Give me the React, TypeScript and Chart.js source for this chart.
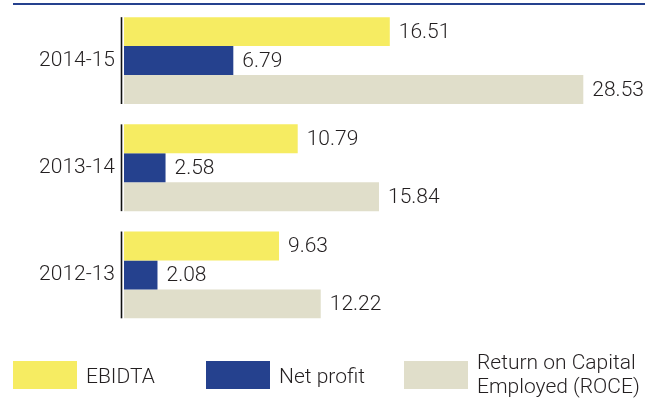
import React, { useEffect, useRef } from "react";
import { Chart, registerables } from "chart.js";

Chart.register(...registerables);

const categories = ["2014-15", "2013-14", "2012-13"];
const seriesNames = ["EBIDTA", "Net profit", "Return on Capital Employed (ROCE)"];
const legendLines = [["EBIDTA"], ["Net profit"], ["Return on Capital", "Employed (ROCE)"]];
const ebidta = [16.51, 10.79, 9.63];
const netProfit = [6.79, 2.58, 2.08];
const roce = [28.53, 15.84, 12.22];
const colors = ["#F6EC62", "#25418E", "#E0DECA"];

const TEXT = "#231f20";
const FONT = "Roboto, 'Liberation Sans', sans-serif";
const FS = 21;

export default function App() {
  const ref = useRef<HTMLCanvasElement | null>(null);

  useEffect(() => {
    if (!ref.current) return;
    const decor = {
      id: "decor",
      afterDatasetsDraw(chart: any) {
        const ctx = chart.ctx;
        ctx.save();
        // top rule
        ctx.fillStyle = colors[1];
        ctx.fillRect(13, 3, 632, 2);
        // per-group axis segments
        const first = chart.getDatasetMeta(0);
        const last = chart.getDatasetMeta(chart.data.datasets.length - 1);
        ctx.strokeStyle = "#111";
        ctx.lineWidth = 1.6;
        first.data.forEach((el: any, i: number) => {
          const lb = last.data[i] as any;
          const top = el.y - el.height / 2;
          const bottom = lb.y + lb.height / 2;
          const x = chart.chartArea.left - 2.5;
          ctx.beginPath();
          ctx.moveTo(x, top);
          ctx.lineTo(x, bottom);
          ctx.stroke();
        });
        // value labels
        ctx.fillStyle = TEXT;
        ctx.font = `300 ${FS}px ${FONT}`;
        ctx.textAlign = "left";
        ctx.textBaseline = "middle";
        chart.data.datasets.forEach((ds: any, di: number) => {
          const meta = chart.getDatasetMeta(di);
          meta.data.forEach((el: any, i: number) => {
            ctx.fillText(Number(ds.data[i]).toFixed(2), el.x + 9, el.y + 1);
          });
        });
        // legend
        const boxX = [13, 206, 404];
        const textX = [86, 279, 477];
        ctx.textBaseline = "alphabetic";
        legendLines.forEach((lines, i) => {
          ctx.fillStyle = colors[i];
          ctx.fillRect(boxX[i], 361, 64, 28);
          ctx.fillStyle = TEXT;
          if (lines.length === 1) {
            ctx.fillText(lines[0], textX[i], 383);
          } else {
            ctx.fillText(lines[0], textX[i], 369);
            ctx.fillText(lines[1], textX[i], 393);
          }
        });
        ctx.restore();
      },
    };

    const chart = new Chart(ref.current, {
      type: "bar",
      data: {
        labels: categories,
        datasets: [
          { label: seriesNames[0], data: ebidta, backgroundColor: colors[0] },
          { label: seriesNames[1], data: netProfit, backgroundColor: colors[1] },
          { label: seriesNames[2], data: roce, backgroundColor: colors[2] },
        ],
      },
      options: {
        indexAxis: "y",
        responsive: false,
        animation: false,
        datasets: { bar: { categoryPercentage: 0.81, barPercentage: 1.0 } },
        layout: { padding: { top: 7, bottom: 78.5, left: 0, right: 10 } },
        plugins: { legend: { display: false }, tooltip: { enabled: false } },
        scales: {
          x: { display: false, min: 0, max: 32.3 },
          y: {
            grid: { display: false, drawTicks: false },
            border: { display: false },
            afterFit: (s: any) => {
              s.width = 124;
              s.paddingTop = 0;
              s.paddingBottom = 0;
            },
            ticks: {
              padding: 9,
              color: TEXT,
              font: { family: FONT, size: FS, weight: "300" as any },
            },
          },
        },
      },
      plugins: [decor],
    });
    return () => chart.destroy();
  }, []);

  return (
    <div style={{ position: "absolute", left: 0, top: 0, width: 654, height: 407, background: "#fff" }}>
      <canvas ref={ref} width={654} height={407} style={{ display: "block" }} />
    </div>
  );
}
